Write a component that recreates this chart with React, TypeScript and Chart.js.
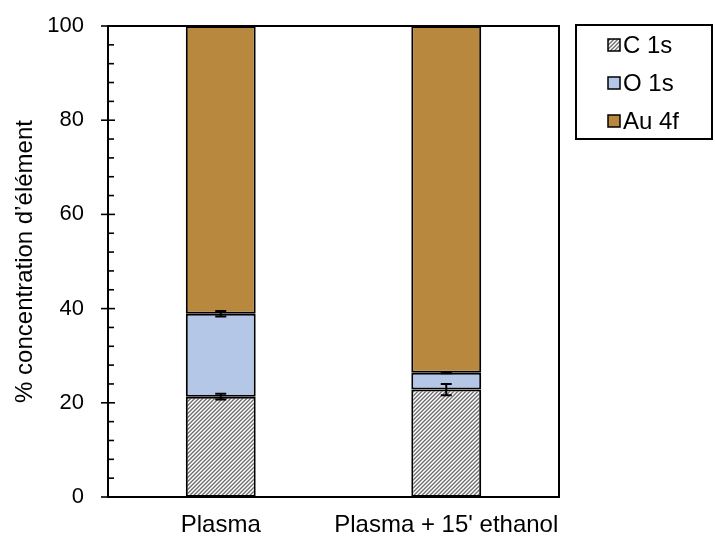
import React, { useEffect, useRef } from "react";
import { Chart, registerables } from "chart.js";

Chart.register(...registerables);

const categories = ["Plasma", "Plasma + 15' ethanol"];
const seriesNames = ["C 1s", "O 1s", "Au 4f"];
const c1s = [21.3, 22.8];
const o1s = [17.6, 3.6];
const au4f = [61.1, 73.6];
const c1sErr = [0.6, 1.2];
const o1sErr = [0.6, 0.15];
const yMin = 0;
const yMax = 100;
const majorStep = 20;
const minorStep = 4;

const FONT = "'Liberation Sans', Arial, sans-serif";

function makeHatch(): CanvasPattern | string {
  const c = document.createElement("canvas");
  c.width = 4;
  c.height = 4;
  const ctx = c.getContext("2d");
  if (!ctx) return "#aaaaaa";
  const img = ctx.createImageData(4, 4);
  const shades = [115, 160, 255, 210];
  for (let y = 0; y < 4; y++) {
    for (let x = 0; x < 4; x++) {
      const v = shades[(x + y) % 4];
      const i = (y * 4 + x) * 4;
      img.data[i] = v;
      img.data[i + 1] = v;
      img.data[i + 2] = v;
      img.data[i + 3] = 255;
    }
  }
  ctx.putImageData(img, 0, 0);
  const p = ctx.createPattern(c, "repeat");
  return p || "#aaaaaa";
}

export default function App() {
  const ref = useRef<HTMLCanvasElement | null>(null);

  useEffect(() => {
    if (!ref.current) return;
    const hatch = makeHatch();
    const colors = [hatch, "#B4C7E7", "#B8883E"];

    const framePlugin = {
      id: "frame",
      afterDatasetsDraw(chart: any) {
        const { ctx, chartArea, scales } = chart;
        const y = scales.y;
        ctx.save();
        // error bars
        ctx.strokeStyle = "#000";
        ctx.lineWidth = 2;
        const cMeta = chart.getDatasetMeta(0);
        for (let j = 0; j < categories.length; j++) {
          const x = cMeta.data[j].x;
          const drawErr = (v: number, e: number) => {
            const yt = y.getPixelForValue(v + e);
            const yb = y.getPixelForValue(v - e);
            ctx.beginPath();
            ctx.moveTo(x, yt);
            ctx.lineTo(x, yb);
            ctx.moveTo(x - 5.5, yt);
            ctx.lineTo(x + 5.5, yt);
            ctx.moveTo(x - 5.5, yb);
            ctx.lineTo(x + 5.5, yb);
            ctx.stroke();
          };
          drawErr(c1s[j], c1sErr[j]);
          drawErr(c1s[j] + o1s[j], o1sErr[j]);
        }
        // frame
        ctx.lineWidth = 2;
        ctx.strokeRect(chartArea.left, chartArea.top, chartArea.right - chartArea.left, chartArea.bottom - chartArea.top);
        // y ticks
        ctx.lineWidth = 1.6;
        for (let v = yMin; v <= yMax + 1e-9; v += minorStep) {
          const py = y.getPixelForValue(v);
          ctx.beginPath();
          if (Math.abs(v % majorStep) < 1e-9) {
            ctx.moveTo(chartArea.left - 7, py);
            ctx.lineTo(chartArea.left + 7, py);
          } else {
            ctx.moveTo(chartArea.left, py);
            ctx.lineTo(chartArea.left + 6, py);
          }
          ctx.stroke();
        }
        // legend
        const lx = 576, ly = 25, lw = 136, lh = 114;
        ctx.fillStyle = "#fff";
        ctx.fillRect(lx, ly, lw, lh);
        ctx.lineWidth = 2;
        ctx.strokeStyle = "#000";
        ctx.strokeRect(lx, ly, lw, lh);
        ctx.font = `24px ${FONT}`;
        ctx.textBaseline = "middle";
        ctx.textAlign = "left";
        const ys = [45, 83, 121];
        chart.data.datasets.forEach((ds: any, i: number) => {
          const sy = ys[i];
          ctx.fillStyle = ds.backgroundColor;
          ctx.fillRect(608, sy - 6, 12, 12);
          ctx.lineWidth = 1.5;
          ctx.strokeRect(608, sy - 6, 12, 12);
          ctx.fillStyle = "#000";
          ctx.fillText(ds.label, 623, sy + 1);
        });
        ctx.restore();
      },
    };

    const chart = new Chart(ref.current, {
      type: "bar",
      data: {
        labels: categories,
        datasets: [c1s, o1s, au4f].map((d, i) => ({
          label: seriesNames[i],
          data: d,
          backgroundColor: colors[i] as any,
          borderColor: "#000",
          borderWidth: 2,
          borderSkipped: false,
          categoryPercentage: 1,
          barPercentage: 0.31,
        })),
      },
      options: {
        animation: false,
        responsive: false,
        maintainAspectRatio: false,
        layout: { padding: { top: 26, right: 156, left: 0, bottom: 0 } },
        plugins: { legend: { display: false }, tooltip: { enabled: false } },
        scales: {
          x: {
            stacked: true,
            grid: { display: false, drawTicks: false },
            border: { display: false },
            ticks: {
              color: "#000",
              font: { family: FONT, size: 24 },
              padding: 14,
              maxRotation: 0,
              minRotation: 0,
              autoSkip: false,
            },
            afterFit(s: any) {
              s.height = 41;
              s.paddingLeft = 0;
              s.paddingRight = 0;
            },
          },
          y: {
            stacked: true,
            min: yMin,
            max: yMax,
            grid: { display: false, drawTicks: false },
            border: { display: false },
            ticks: {
              stepSize: majorStep,
              color: "#000",
              font: { family: FONT, size: 22 },
              padding: 24,
            },
            title: {
              display: true,
              text: "% concentration d’élément",
              color: "#000",
              font: { family: FONT, size: 24 },
              padding: { top: 11, bottom: 0 },
            },
            afterFit(s: any) {
              s.width = 108;
              s.paddingTop = 0;
              s.paddingBottom = 0;
            },
          },
        },
      },
      plugins: [framePlugin],
    });
    return () => chart.destroy();
  }, []);

  return (
    <div style={{ position: "absolute", left: 0, top: 0, width: 715, height: 538, background: "#fff" }}>
      <canvas ref={ref} width={715} height={538} style={{ width: 715, height: 538 }} />
    </div>
  );
}
